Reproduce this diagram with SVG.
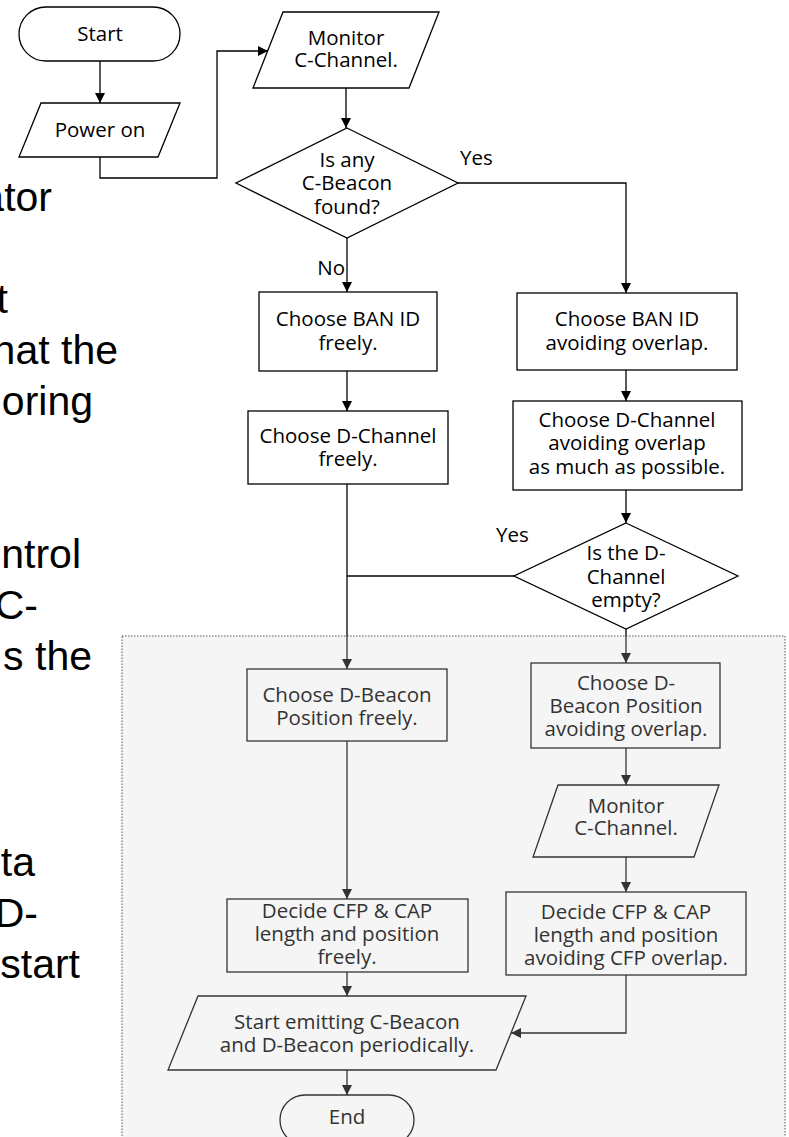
<svg xmlns="http://www.w3.org/2000/svg" width="789" height="1137" viewBox="0 0 789 1137">
<style>
.bg{fill:#fff}
.t{font-family:"Open Sans","Noto Sans",sans-serif;font-size:20.5px;fill:#000;text-anchor:middle}
.ti{font-family:"Open Sans","Noto Sans",sans-serif;font-size:20.5px;fill:#333;text-anchor:middle}
.lbl{font-family:"Open Sans","Noto Sans",sans-serif;font-size:20.5px;fill:#000}
.big{font-family:"Liberation Sans",Arial,sans-serif;font-size:41px;fill:#000;text-anchor:end}
.n{fill:#fff;stroke:#000;stroke-width:1.3}
.ni{fill:#f5f5f5;stroke:#333;stroke-width:1.3}
.c{fill:none;stroke:#000;stroke-width:1.3}
.ci{fill:none;stroke:#333;stroke-width:1.3}
.area{fill:#f5f5f5;stroke:#555;stroke-width:1;stroke-dasharray:1.5 1.5}
</style>
<defs>
<marker id="ah" viewBox="0 0 10 10" refX="10" refY="5" markerWidth="10" markerHeight="11" markerUnits="userSpaceOnUse" orient="auto">
<path d="M0,0 L10,5 L0,10 z" fill="#000"/>
</marker>
<marker id="ahi" viewBox="0 0 10 10" refX="10" refY="5" markerWidth="10" markerHeight="11" markerUnits="userSpaceOnUse" orient="auto">
<path d="M0,0 L10,5 L0,10 z" fill="#333"/>
</marker>
</defs>
<rect class="bg" x="0" y="0" width="789" height="1137"/>

<g id="background-text">
<text class="big" x="52" y="211">ator</text>
<text class="big" x="8" y="313">t</text>
<text class="big" x="118" y="364">hat the</text>
<text class="big" x="93" y="415">oring</text>
<text class="big" x="81" y="568">ntrol</text>
<text class="big" x="38" y="619">C-</text>
<text class="big" x="92" y="670">s the</text>
<text class="big" x="35" y="876">ta</text>
<text class="big" x="38" y="927">D-</text>
<text class="big" x="80" y="978">start</text>
</g>

<rect id="region" class="area" x="122" y="636" width="663" height="520"/>

<g id="connectors">
<path class="c" d="M100,61 V103" marker-end="url(#ah)"/>
<path class="c" d="M100,157 V178 H217 V51 H268" marker-end="url(#ah)"/>
<path class="c" d="M346,88 V128" marker-end="url(#ah)"/>
<path class="c" d="M458,183 H626 V293" marker-end="url(#ah)"/>
<path class="c" d="M347,238 V292" marker-end="url(#ah)"/>
<path class="c" d="M347,371 V411" marker-end="url(#ah)"/>
<path class="c" d="M626,370 V401" marker-end="url(#ah)"/>
<path class="c" d="M626,490 V523" marker-end="url(#ah)"/>
<path class="c" d="M514,576 H347"/>
<path class="c" d="M347,484 V636"/>
<path class="ci" d="M347,636 V669" marker-end="url(#ahi)"/>
<path class="c" d="M626,629 V636"/>
<path class="ci" d="M626,636 V663" marker-end="url(#ahi)"/>
<path class="ci" d="M626,748 V785" marker-end="url(#ahi)"/>
<path class="ci" d="M626,857 V892" marker-end="url(#ahi)"/>
<path class="ci" d="M347,741 V899" marker-end="url(#ahi)"/>
<path class="ci" d="M347,972 V996" marker-end="url(#ahi)"/>
<path class="ci" d="M626,975 V1033 H511" marker-end="url(#ahi)"/>
<path class="ci" d="M347,1070 V1095" marker-end="url(#ahi)"/>
<text class="lbl" x="460" y="165">Yes</text>
<text class="lbl" x="345" y="275" text-anchor="end">No</text>
<text class="lbl" x="496" y="542">Yes</text>
</g>

<g id="start">
<rect class="n" x="19" y="7" width="161" height="54" rx="27"/>
<text class="t" x="100" y="41">Start</text>
</g>

<g id="power-on">
<polygon class="n" points="41,103 180,103 158,157 19,157"/>
<text class="t" x="100" y="137">Power on</text>
</g>

<g id="monitor1">
<polygon class="n" points="283,12 439,12 409,88 253,88"/>
<text class="t" x="346" y="45">Monitor</text>
<text class="t" x="346" y="67">C-Channel.</text>
</g>

<g id="decision1">
<polygon class="n" points="347,128 458,183 347,238 236,183"/>
<text class="t" x="347" y="167">Is any</text>
<text class="t" x="347" y="190">C-Beacon</text>
<text class="t" x="347" y="214">found?</text>
</g>

<g id="banid-free">
<rect class="n" x="259" y="292" width="178" height="79"/>
<text class="t" x="348" y="326">Choose BAN ID</text>
<text class="t" x="348" y="350">freely.</text>
</g>

<g id="banid-avoid">
<rect class="n" x="517" y="293" width="220" height="77"/>
<text class="t" x="627" y="326">Choose BAN ID</text>
<text class="t" x="627" y="350">avoiding overlap.</text>
</g>

<g id="dch-free">
<rect class="n" x="248" y="411" width="200" height="73"/>
<text class="t" x="348" y="443">Choose D-Channel</text>
<text class="t" x="348" y="466">freely.</text>
</g>

<g id="dch-avoid">
<rect class="n" x="513" y="401" width="229" height="89"/>
<text class="t" x="627" y="427">Choose D-Channel</text>
<text class="t" x="627" y="450">avoiding overlap</text>
<text class="t" x="627" y="474">as much as possible.</text>
</g>

<g id="decision2">
<polygon class="n" points="626,523 738,576 626,629 514,576"/>
<text class="t" x="626" y="560">Is the D-</text>
<text class="t" x="626" y="584">Channel</text>
<text class="t" x="626" y="607">empty?</text>
</g>

<g id="dbeacon-free">
<rect class="ni" x="247" y="669" width="200" height="72"/>
<text class="ti" x="347" y="702">Choose D-Beacon</text>
<text class="ti" x="347" y="725">Position freely.</text>
</g>

<g id="dbeacon-avoid">
<rect class="ni" x="531" y="663" width="189" height="85"/>
<text class="ti" x="626" y="690">Choose D-</text>
<text class="ti" x="626" y="713">Beacon Position</text>
<text class="ti" x="626" y="736">avoiding overlap.</text>
</g>

<g id="monitor2">
<polygon class="ni" points="558,785 719,785 694,857 533,857"/>
<text class="ti" x="626" y="813">Monitor</text>
<text class="ti" x="626" y="835">C-Channel.</text>
</g>

<g id="decide-free">
<rect class="ni" x="227" y="899" width="241" height="73"/>
<text class="ti" x="347" y="918">Decide CFP &amp; CAP</text>
<text class="ti" x="347" y="941">length and position</text>
<text class="ti" x="347" y="964">freely.</text>
</g>

<g id="decide-avoid">
<rect class="ni" x="506" y="892" width="240" height="83"/>
<text class="ti" x="626" y="919">Decide CFP &amp; CAP</text>
<text class="ti" x="626" y="942">length and position</text>
<text class="ti" x="626" y="965">avoiding CFP overlap.</text>
</g>

<g id="emit">
<polygon class="ni" points="198,996 526,996 496,1070 168,1070"/>
<text class="ti" x="347" y="1029">Start emitting C-Beacon</text>
<text class="ti" x="347" y="1052">and D-Beacon periodically.</text>
</g>

<g id="end">
<rect class="ni" x="280" y="1095" width="134" height="50" rx="25"/>
<text class="ti" x="347" y="1124">End</text>
</g>
</svg>
